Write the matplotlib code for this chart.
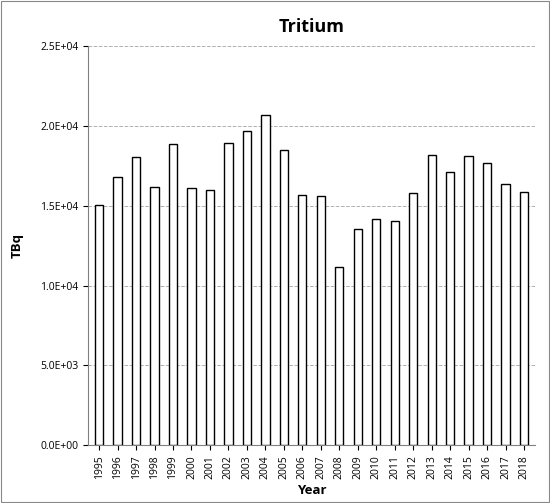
import matplotlib
matplotlib.use("Agg")
import matplotlib.pyplot as plt
from matplotlib.ticker import FuncFormatter

years = [str(y) for y in range(1995, 2019)]
values = [15050, 16800, 18050, 16200, 18900, 16100, 16000, 18950, 19700, 20700,
          18500, 15650, 15600, 11150, 13550, 14200, 14050, 15800, 18200, 17100,
          18100, 17700, 16350, 15850]

plt.rcParams['font.family'] = ['Open Sans', 'DejaVu Sans']
fig = plt.figure(figsize=(5.5, 5.03), dpi=100)
ax = fig.add_axes([0.16, 0.115, 0.813, 0.793])
x = range(len(years))
ax.bar(x, values, width=0.45, color='white', edgecolor='black', linewidth=1, zorder=3)
ax.set_ylim(0, 25000)
ax.set_yticks([0, 5000, 10000, 15000, 20000, 25000])
ax.yaxis.set_major_formatter(FuncFormatter(lambda v, p: f"{v:.1E}".replace("E+0", "E+0")))
ax.set_xticks(list(x))
ax.set_xticklabels(years, rotation=90, fontsize=7.5)
ax.tick_params(axis='y', labelsize=7.5)
ax.set_xlim(-0.6, len(years) - 0.4)
ax.grid(axis='y', linestyle='--', color='#b0b0b0', linewidth=0.7, zorder=0)
for s in ['top', 'right']:
    ax.spines[s].set_visible(False)
ax.spines['left'].set_color('#808080')
ax.spines['bottom'].set_color('#808080')
ax.set_title('Tritium', fontsize=13, fontweight='bold', pad=10)
ax.set_xlabel('Year', fontsize=9.5, fontweight='bold')
ax.set_ylabel('TBq', fontsize=9.5, fontweight='bold', labelpad=12)
fig.patches.append(plt.Rectangle((0.002, 0.002), 0.996, 0.996, transform=fig.transFigure,
                                 fill=False, edgecolor='#888888', linewidth=0.8))
fig.savefig('out.png', dpi=100)
